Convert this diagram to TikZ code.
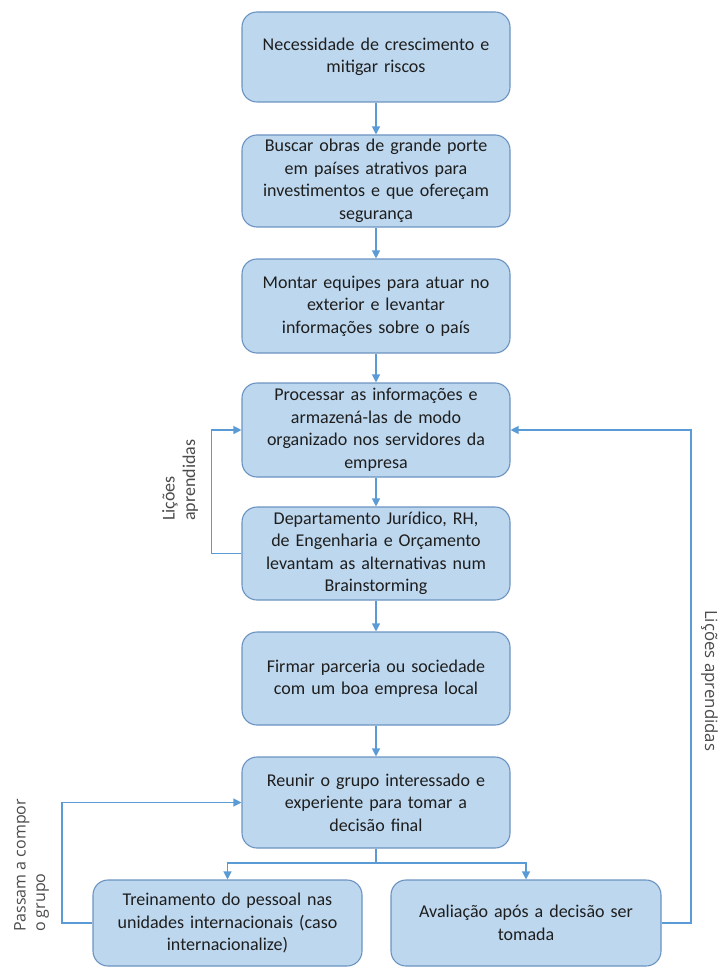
\documentclass[tikz,border=0pt]{standalone}
\usepackage{fontspec}
\setmainfont{Carlito}
\newfontfamily\labelfont{Open Sans}
\usetikzlibrary{arrows.meta,positioning}
\definecolor{boxfill}{HTML}{BDD7EE}
\definecolor{boxdraw}{HTML}{6B93C1}
\definecolor{arrowc}{HTML}{5B9BD5}
\definecolor{txt}{HTML}{1E1E1E}
\begin{document}
\begin{tikzpicture}[x=1pt,y=-1pt,
  box/.style={draw=boxdraw,line width=1.1pt,fill=boxfill,rounded corners=15pt,
    minimum width=268pt,text width=258pt,align=center,inner sep=0pt,
    font=\fontsize{18}{22.5}\selectfont,text=txt},
  conn/.style={draw=arrowc,line width=1.2pt},
  arr/.style={conn,-{Triangle[length=8pt,width=8pt]}},
  lbl/.style={font=\labelfont\fontsize{16}{19.5}\selectfont,text=txt!80!white,inner sep=0pt}]
\useasboundingbox (0,0) rectangle (718,968);
\node[box,minimum height=90pt] (b1) at (376,57) {Necessidade de crescimento e\\mitigar riscos};
\node[box,minimum height=92pt] (b2) at (376,181) {Buscar obras de grande porte\\em países atrativos para\\investimentos e que ofereçam\\segurança};
\node[box,minimum height=94pt] (b3) at (376,306) {Montar equipes para atuar no\\exterior e levantar\\informações sobre o país};
\node[box,minimum height=94pt] (b4) at (376,430) {Processar as informações e\\armazená-las de modo\\organizado nos servidores da\\empresa};
\node[box,minimum height=93pt] (b5) at (376,553.5) {Departamento Jurídico, RH,\\de Engenharia e Orçamento\\levantam as alternativas num\\Brainstorming};
\node[box,minimum height=93pt] (b6) at (376,678.5) {Firmar parceria ou sociedade\\com um boa empresa local};
\node[box,minimum height=91pt] (b7) at (376,802.5) {Reunir o grupo interessado e\\experiente para tomar a\\decisão final};
\node[box,minimum height=86pt,minimum width=269pt] (b8) at (227.5,923) {Treinamento do pessoal nas\\unidades internacionais (caso\\internacionalize)};
\node[box,minimum height=86pt,minimum width=270pt] (b9) at (526,923) {Avaliação após a decisão ser\\tomada};

\draw[arr] (b1) -- (b2);
\draw[arr] (b2) -- (b3);
\draw[arr] (b3) -- (b4);
\draw[arr] (b4) -- (b5);
\draw[arr] (b5) -- (b6);
\draw[arr] (b6) -- (b7);

\coordinate (split) at (376,863);
\draw[conn] (b7.south) -- (split);
\draw[arr] (split) -| (b8.north);
\draw[arr] (split) -| (b9.north);

\draw[arr] (b5.west) -- ++(-30,0) |- (b4.west);
\draw[arr] (b9.east) -- (691,923) |- (b4.east);
\draw[arr] (b8.west) -- (62,923) |- (b7.west);

\node[lbl,font=\fontsize{18}{20.5}\selectfont,rotate=90,align=left,anchor=north west] (l1) at (162,521) {Lições\\aprendidas};
\node[lbl,font=\labelfont\fontsize{16.8}{20}\selectfont,rotate=-90,anchor=north west] (l2) at (718,610) {Lições aprendidas};
\node[lbl,rotate=90,align=left,anchor=north west] (l3) at (14,932) {Passam a compor\\o grupo};
\end{tikzpicture}
\end{document}
